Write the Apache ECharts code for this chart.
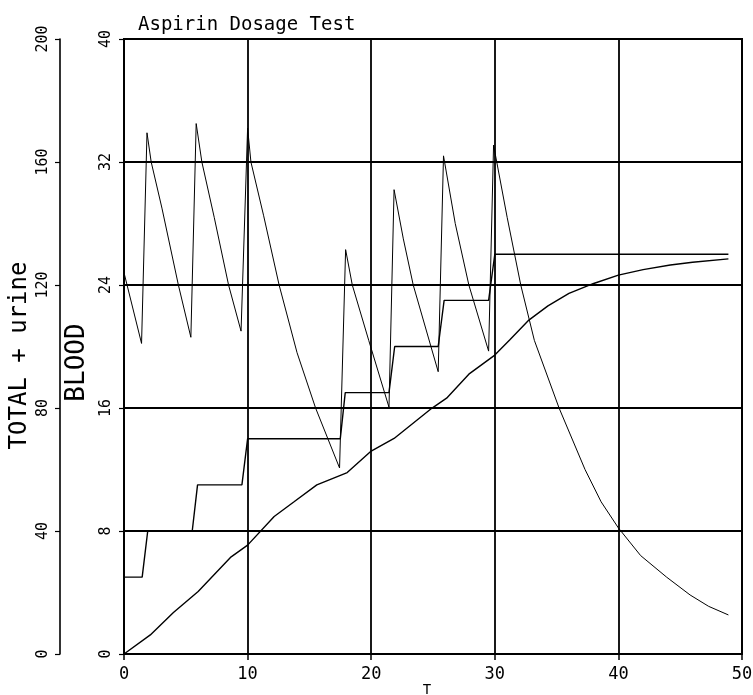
<!DOCTYPE html>
<html>
<head>
<meta charset="utf-8">
<script src="https://cdn.jsdelivr.net/npm/echarts@6/dist/echarts.min.js"></script>
<style>
html,body{margin:0;padding:0;background:#fff;}
#chart{width:753px;height:695px;}
</style>
</head>
<body>
<div id="chart"></div>
<script>
// ---- data ----
const xTicks = [0, 10, 20, 30, 40, 50];
const bloodTicks = [0, 8, 16, 24, 32, 40];
const totalTicks = [0, 40, 80, 120, 160, 200];

// BLOOD (inner axis, 0-40)
const bloodT = [0, 1.42, 1.86, 2.2, 3.07, 4.4, 5.41, 5.84, 6.3, 7.3, 8.46, 9.47, 10.0, 10.27, 11.3, 12.55, 14.0, 15.5, 17.44,
  17.93, 18.47, 19.8, 21.44, 21.85, 22.6, 23.4, 25.42, 25.85, 26.8, 27.9, 29.5, 29.9, 31.0, 32.1, 33.2, 35.2, 37.3, 38.6, 40.0,
  41.8, 43.9, 45.8, 47.3, 48.9];
const bloodV = [24.8, 20.2, 33.9, 32.0, 29.0, 24.0, 20.6, 34.5, 32.0, 28.4, 24.0, 21.0, 34.2, 32.0, 28.5, 24.0, 19.6, 16.0, 12.1,
  26.3, 24.0, 20.4, 16.05, 30.2, 27.0, 24.0, 18.36, 32.4, 28.0, 24.0, 19.7, 33.1, 28.4, 24.0, 20.4, 16.0, 12.0, 9.9, 8.2,
  6.4, 5.0, 3.84, 3.1, 2.54];

// TOTAL (staircase, 0-200 axis)
const totalT = [0, 1.47, 1.92, 5.52, 5.95, 9.54, 10.0, 17.5, 17.9, 21.44, 21.9, 25.42, 25.9, 29.5, 30.0, 48.9];
const totalV = [25, 25, 40, 40, 55, 55, 70, 70, 85, 85, 100, 100, 115, 115, 130, 130];

// urine (smooth rising, 0-200 axis)
const urineT = [0, 2.13, 4.0, 6.0, 8.67, 10.0, 12.15, 13.76, 15.6, 18.06, 20.0, 21.85, 24.9, 26.1, 27.9, 30.0, 31.2, 32.7, 34.3,
  36.0, 38.0, 40.0, 42.0, 44.2, 46.0, 48.9];
const urineV = [0, 6.2, 13.5, 20.3, 31.6, 35.4, 44.7, 49.5, 55.0, 59.0, 66.0, 70.1, 79.9, 83.2, 91.0, 97.2, 102.1, 108.4, 113.2,
  117.3, 120.5, 123.2, 125.0, 126.5, 127.4, 128.5];

const zip = (a, b) => a.map((v, i) => [v, b[i]]);

const FONT = 'DejaVu Sans Mono';
const chart = echarts.init(document.getElementById('chart'), null, {renderer: 'canvas'});
chart.setOption({
  animation: false,
  backgroundColor: '#ffffff',
  title: {
    text: 'Aspirin Dosage Test',
    left: 133, top: 11,
    textStyle: {fontFamily: FONT, fontSize: 19, fontWeight: 'normal', color: '#000'}
  },
  grid: {left: 124, right: 11, top: 39, bottom: 41, show: true, borderColor: '#000', borderWidth: 2,
    containLabel: false, outerBoundsMode: 'none'},
  xAxis: {
    type: 'value', min: xTicks[0], max: xTicks[xTicks.length - 1], interval: xTicks[1] - xTicks[0],
    name: 'T', nameLocation: 'middle', nameGap: 29, nameMoveOverlap: false,
    nameTextStyle: {fontFamily: FONT, fontSize: 14, color: '#000', padding: [0, 12, 0, 0]},
    axisLine: {show: true, lineStyle: {color: '#000', width: 2}},
    axisTick: {show: true, length: 6, lineStyle: {color: '#000', width: 1.5}},
    axisLabel: {margin: 12, fontFamily: FONT, fontSize: 17, color: '#000'},
    splitLine: {show: true, lineStyle: {color: '#000', width: 1.8}}
  },
  yAxis: [
    {
      type: 'value', position: 'left', min: bloodTicks[0], max: bloodTicks[bloodTicks.length - 1],
      interval: bloodTicks[1] - bloodTicks[0],
      name: 'BLOOD', nameLocation: 'middle', nameGap: 34, nameRotate: 90, nameMoveOverlap: false,
      nameTextStyle: {fontFamily: FONT, fontSize: 26, color: '#000', padding: [0, 32, 0, 0]},
      axisLine: {show: true, lineStyle: {color: '#000', width: 2}},
      axisTick: {show: true, length: 5, lineStyle: {color: '#000', width: 1.2}},
      axisLabel: {rotate: 90, margin: 10, fontFamily: FONT, fontSize: 15, color: '#000'},
      splitLine: {show: true, lineStyle: {color: '#000', width: 1.8}}
    },
    {
      type: 'value', position: 'left', offset: 64, min: totalTicks[0], max: totalTicks[totalTicks.length - 1],
      interval: totalTicks[1] - totalTicks[0],
      name: 'TOTAL + urine', nameLocation: 'middle', nameGap: 28, nameRotate: 90, nameMoveOverlap: false,
      nameTextStyle: {fontFamily: FONT, fontSize: 24, color: '#000', padding: [0, 18, 0, 0]},
      axisLine: {show: true, lineStyle: {color: '#000', width: 1.6}},
      axisTick: {show: true, length: 5, lineStyle: {color: '#000', width: 1.2}},
      axisLabel: {rotate: 90, margin: 9, fontFamily: FONT, fontSize: 15, color: '#000'},
      splitLine: {show: false}
    }
  ],
  series: [
    {type: 'line', name: 'BLOOD', yAxisIndex: 0, data: zip(bloodT, bloodV), showSymbol: false, silent: true,
      lineStyle: {color: '#000', width: 1}},
    {type: 'line', name: 'TOTAL', yAxisIndex: 1, data: zip(totalT, totalV), showSymbol: false, silent: true,
      lineStyle: {color: '#000', width: 1.4}},
    {type: 'line', name: 'urine', yAxisIndex: 1, data: zip(urineT, urineV), showSymbol: false, silent: true,
      lineStyle: {color: '#000', width: 1.4}}
  ]
});
</script>
</body>
</html>
